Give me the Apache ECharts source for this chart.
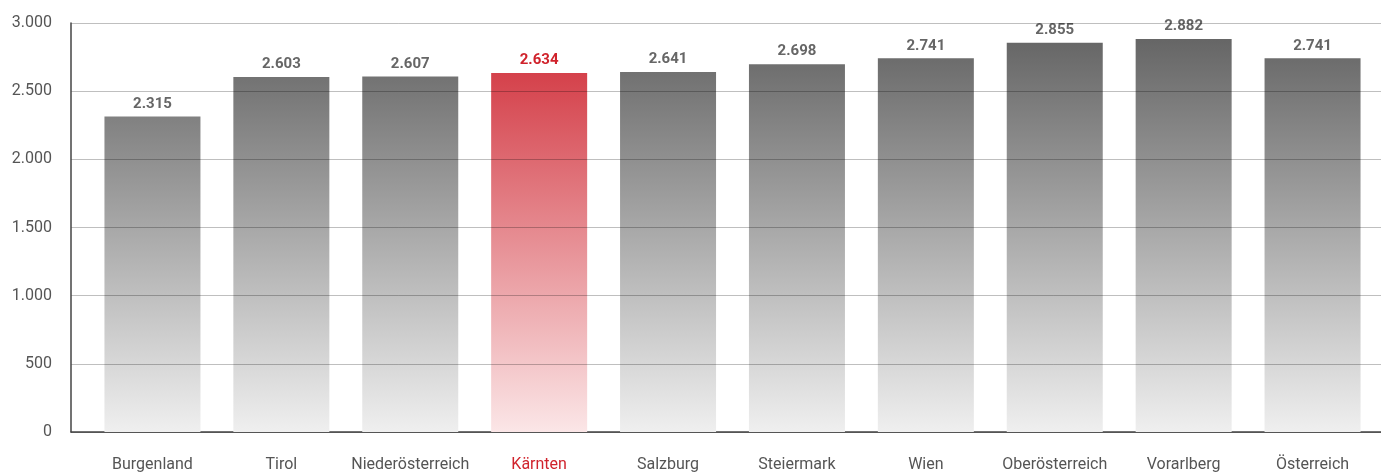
<!DOCTYPE html>
<html>
<head>
<meta charset="utf-8">
<script src="https://cdn.jsdelivr.net/npm/echarts@6/dist/echarts.min.js"></script>
<style>
  html, body { margin: 0; padding: 0; background: #fff; }
  #chart { width: 1381px; height: 474px; }
</style>
</head>
<body>
<div id="chart"></div>
<script>
const categories = ['Burgenland', 'Tirol', 'Niederösterreich', 'Kärnten', 'Salzburg',
  'Steiermark', 'Wien', 'Oberösterreich', 'Vorarlberg', 'Österreich'];
const values = [2315, 2603, 2607, 2634, 2641, 2698, 2741, 2855, 2882, 2741];
const highlight = 'Kärnten';
const yTicks = [0, 500, 1000, 1500, 2000, 2500, 3000];

const FONT = 'Roboto';
const TOP = 23, BOTTOM_Y = 432;

const fmt = (v) => String(v).replace(/\B(?=(\d{3})+(?!\d))/g, '.');

const grad = (top, bottom) => ({
  type: 'linear', x: 0, y: TOP, x2: 0, y2: BOTTOM_Y, global: true,
  colorStops: [{offset: 0, color: top}, {offset: 1, color: bottom}]
});
const grayFill = grad('#606060', '#efefef');
const redFill = grad('#cf2a35', '#fbe6e7');

const barData = values.map((v, i) => {
  const hot = categories[i] === highlight;
  return {
    value: v,
    itemStyle: {color: hot ? redFill : grayFill},
    label: {color: hot ? '#d0232c' : '#666666'}
  };
});

const chart = echarts.init(document.getElementById('chart'));
chart.setOption({
  animation: false,
  grid: [
    {left: 71, right: 0, top: TOP, bottom: 474 - BOTTOM_Y},
    {left: 88, right: 4, top: TOP, bottom: 474 - BOTTOM_Y}
  ],
  xAxis: [
    {
      gridIndex: 0, type: 'value', min: 0, max: 1,
      axisLine: {show: true, lineStyle: {color: '#444', width: 1.5}},
      axisTick: {show: false}, axisLabel: {show: false}, splitLine: {show: false}
    },
    {
      gridIndex: 1, type: 'category', data: categories,
      axisLine: {show: false}, axisTick: {show: false},
      axisLabel: {
        interval: 0, margin: 25, fontFamily: FONT, fontSize: 16,
        color: (val) => val === highlight ? '#d0232c' : '#555555'
      }
    }
  ],
  yAxis: [
    {
      gridIndex: 0, type: 'value', min: yTicks[0], max: yTicks[yTicks.length - 1], interval: 500,
      z: 5,
      axisLine: {show: true, lineStyle: {color: '#444', width: 1.5}},
      axisTick: {show: false},
      axisLabel: {
        margin: 19, fontFamily: FONT, fontSize: 16, color: '#555555',
        formatter: (v) => fmt(v)
      },
      splitLine: {lineStyle: {color: 'rgba(0,0,0,0.25)', width: 1}}
    },
    {
      gridIndex: 1, type: 'value', min: yTicks[0], max: yTicks[yTicks.length - 1],
      show: false, splitLine: {show: false}
    }
  ],
  series: [{
    type: 'bar',
    xAxisIndex: 1,
    yAxisIndex: 1,
    barWidth: 96,
    data: barData,
    label: {
      show: true, position: 'top', distance: 5,
      fontFamily: FONT, fontSize: 15, fontWeight: 'bold',
      formatter: (p) => fmt(p.value)
    }
  }]
});
</script>
</body>
</html>
